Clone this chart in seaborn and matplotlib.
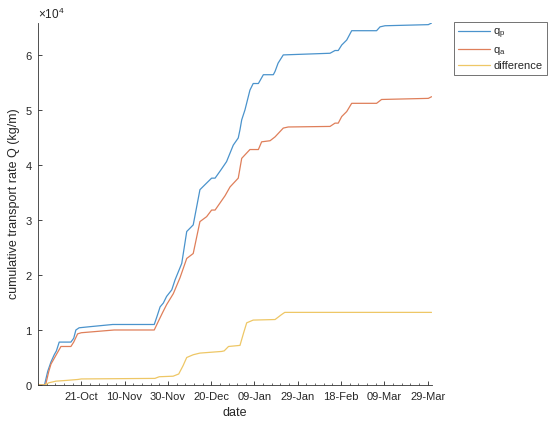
import numpy as np
import pandas as pd
import matplotlib
matplotlib.use("Agg")
import matplotlib.pyplot as plt
import matplotlib.dates as mdates
from matplotlib.ticker import ScalarFormatter
import seaborn as sns

start = pd.Timestamp("2019-10-01")

# days since 01-Oct and cumulative values (kg/m)
qp_days = [0, 3, 4.5, 6, 7.5, 8.5, 9.8, 15.2, 16.5, 17.5, 19, 24, 34.5, 53.7, 55, 56.4,
           57.9, 59.4, 61.8, 63.3, 66.4, 68.7, 71.7, 74.8, 77.1, 80.2, 81.8, 84.5, 87.1,
           90.2, 92.5, 93.3, 94.1, 95.6, 97.9, 99.4, 101.8, 104.1, 108.7, 109.5, 110.9,
           113.3, 134.9, 137.2, 138.7, 140.3, 142.6, 144.9, 156.4, 158, 160.3, 180.3, 181.8]
qp_vals = [0, 0, 2500, 4200, 5500, 6200, 7800, 7800, 8500, 10000, 10400, 10600, 11000, 11000,
           12500, 14200, 14900, 16100, 17300, 19100, 22100, 27900, 29100, 35500, 36400,
           37600, 37600, 39100, 40600, 43600, 44900, 46400, 48200, 50000, 53600, 54800,
           54800, 56400, 56400, 57000, 58500, 60000, 60300, 60800, 60800, 61800, 62700,
           64400, 64400, 65100, 65300, 65500, 65800]

qa_days = [0, 3.5, 5, 6, 8, 10.6, 15.2, 16.5, 18.3, 20, 35.2, 53.7, 55.5, 57.6, 59.4, 62.5,
           65.6, 68.7, 71.7, 74.8, 77.9, 80.2, 81.8, 86.4, 88.7, 92.5, 94.1, 97.9, 101.8,
           103.3, 107.2, 109.5, 113.3, 115.6, 134.9, 137.2, 138.7, 140.3, 142.6, 144.9,
           156.4, 158.7, 180.3, 181.8]
qa_vals = [0, 0, 2500, 3800, 5200, 7000, 7000, 7800, 9300, 9500, 10000, 10000, 11500, 13200,
           14600, 16600, 19500, 23000, 23900, 29700, 30600, 31800, 31800, 34400, 36000,
           37600, 41200, 42800, 42800, 44200, 44400, 45100, 46700, 46900, 47000, 47600,
           47600, 48800, 49700, 51200, 51200, 51900, 52100, 52400]

diff_days = [0, 3, 5, 8.3, 12, 18.3, 20, 54, 56, 62.4, 65, 67, 68.7, 71.7, 74.8, 84.8, 86, 88,
             93.3, 95, 96.4, 99.4, 109.5, 112.5, 114, 181.8]
diff_vals = [0, 0, 400, 700, 800, 1000, 1100, 1200, 1500, 1600, 2000, 3500, 5000, 5500, 5800,
             6100, 6200, 7000, 7200, 9500, 11300, 11800, 11900, 12800, 13200, 13200]

series_names = ["q$_p$", "q$_a$", "difference"]
colors = ["#4a93cc", "#df7f5a", "#eec766"]

frames = []
for name, d, v in zip(series_names, [qp_days, qa_days, diff_days], [qp_vals, qa_vals, diff_vals]):
    frames.append(pd.DataFrame({
        "date": start + pd.to_timedelta(np.array(d), unit="D"),
        "Q": v,
        "series": name,
    }))
df = pd.concat(frames, ignore_index=True)

sns.set_theme(style="white")
plt.rcParams["font.family"] = ["Liberation Sans", "DejaVu Sans"]
plt.rcParams["mathtext.fontset"] = "custom"
plt.rcParams["mathtext.rm"] = "Liberation Sans"
plt.rcParams["mathtext.it"] = "Liberation Sans"

fig = plt.figure(figsize=(5.5, 4.26), dpi=100)
ax = fig.add_axes([38 / 550, 1 - 385 / 426, (432 - 38) / 550, (385 - 23) / 426])

sns.lineplot(data=df, x="date", y="Q", hue="series", palette=colors, ax=ax,
             linewidth=0.9, estimator=None, sort=False, legend=True)

ax.set_xlim(pd.Timestamp("2019-10-01"), pd.Timestamp("2020-03-31"))
ax.set_ylim(0, 65800)
ax.set_yticks([0, 10000, 20000, 30000, 40000, 50000, 60000])

major = pd.date_range("2019-10-21", "2020-03-29", freq="20D")
ax.set_xticks(major)
ax.xaxis.set_major_formatter(mdates.DateFormatter("%d-%b"))
minor = pd.date_range("2019-10-01", "2020-03-31", freq="4D")
ax.set_xticks(minor, minor=True)

fmt = ScalarFormatter(useMathText=True)
fmt.set_powerlimits((0, 0))
ax.yaxis.set_major_formatter(fmt)
ax.yaxis.get_offset_text().set_fontsize(8.5)
ax.yaxis.get_offset_text().set_color("#333333")

for s in ["top", "right"]:
    ax.spines[s].set_visible(False)
for s in ["left", "bottom"]:
    ax.spines[s].set_color("#333333")
    ax.spines[s].set_linewidth(0.6)

ax.tick_params(axis="both", which="major", direction="in", length=3, width=0.6,
               labelsize=8, colors="#262626", bottom=True, left=True)
ax.tick_params(axis="x", which="major", pad=5)
ax.tick_params(axis="x", which="minor", direction="in", length=1.8, width=0.5,
               colors="#333333", bottom=True)

ax.set_xlabel("date", fontsize=9, color="#262626", labelpad=4)
ax.set_ylabel("cumulative transport rate Q (kg/m)", fontsize=9, color="#262626")

handles, labels = ax.get_legend_handles_labels()
leg = ax.legend(handles, labels, loc="upper left", bbox_to_anchor=(454 / 550, 1 - 22 / 426),
                bbox_transform=fig.transFigure, fontsize=8, frameon=True, fancybox=False,
                handlelength=2.8, handletextpad=0.35, labelspacing=0.35, borderpad=0.4,
                borderaxespad=0.0, title=None)
leg.get_frame().set_edgecolor("#333333")
leg.get_frame().set_linewidth(0.6)

fig.savefig("out.png", dpi=100)
